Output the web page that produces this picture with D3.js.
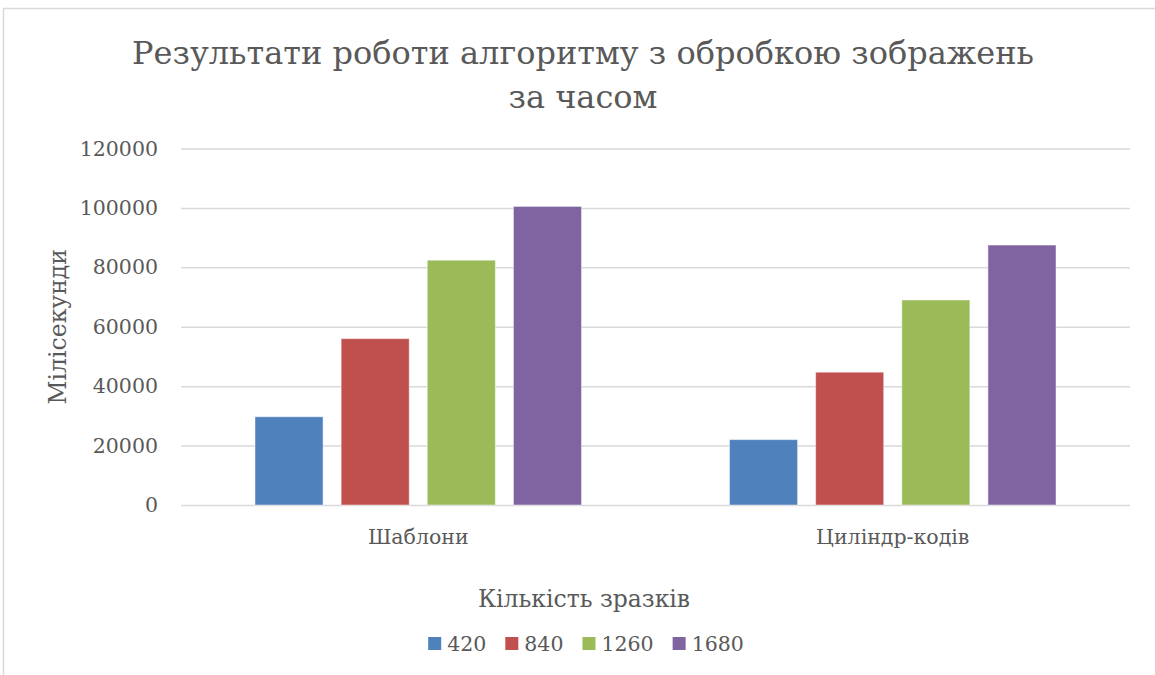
<!DOCTYPE html>
<html>
<head>
<meta charset="utf-8">
<script src="https://cdn.jsdelivr.net/npm/d3@7"></script>
<style>
  html, body { margin: 0; padding: 0; background: #fff; }
  svg { display: block; }
  text { font-family: "DejaVu Serif", "Liberation Serif", serif; fill: #595959; }
</style>
</head>
<body>
<svg id="chart" width="1155" height="675"></svg>
<script>
// Chart data
const categories = ["Шаблони", "Циліндр-кодів"];
const seriesNames = ["420", "840", "1260", "1680"];
const values420  = [29700, 22000];
const values840  = [56000, 44700];
const values1260 = [82400, 69000];
const values1680 = [100500, 87500];
const yTicks = [0, 20000, 40000, 60000, 80000, 100000, 120000];
const colors = ["#4f81bd", "#c0504d", "#9bbb59", "#8064a2"];

const titleLines = ["Результати роботи алгоритму з обробкою зображень", "за часом"];
const yTitle = "Мілісекунди";
const xTitle = "Кількість зразків";

const seriesValues = [values420, values840, values1260, values1680];
const rows = categories.map((c, i) => ({
  category: c,
  items: seriesNames.map((s, j) => ({ series: s, value: seriesValues[j][i], color: colors[j] }))
}));

const svg = d3.select("#chart");
const W = 1155, H = 675;
const plot = { left: 181, right: 1130, top: 148.5, bottom: 505 };

// Outer chart frame
svg.append("rect")
  .attr("x", 3.5).attr("y", 8.5)
  .attr("width", W + 20).attr("height", H + 20)
  .attr("fill", "#fff").attr("stroke", "#d9d9d9").attr("stroke-width", 1.5);

const y = d3.scaleLinear().domain([0, 120000]).range([plot.bottom, plot.top]);
const x0 = d3.scaleBand().domain(categories).range([plot.left, plot.right]).padding(0);
const outer = 74;
const x1 = d3.scaleBand().domain(seriesNames)
  .range([outer, x0.bandwidth() - outer]).paddingInner(0.21).paddingOuter(0);

// Gridlines and value labels
const yAxis = svg.append("g")
  .attr("transform", `translate(${plot.left},0)`)
  .call(d3.axisLeft(y).tickValues(yTicks).tickFormat(d3.format("d"))
    .tickSize(-(plot.right - plot.left)).tickPadding(23));
yAxis.select(".domain").remove();
yAxis.selectAll(".tick line").attr("stroke", "#d9d9d9").attr("stroke-width", 1.5);
yAxis.selectAll(".tick text")
  .attr("font-size", 20.5).attr("fill", "#595959")
  .style("font-family", "DejaVu Serif, serif");

// Bars
const groups = svg.append("g").selectAll("g")
  .data(rows).join("g")
  .attr("transform", d => `translate(${x0(d.category)},0)`);
groups.selectAll("rect")
  .data(d => d.items).join("rect")
  .attr("x", d => x1(d.series))
  .attr("width", x1.bandwidth())
  .attr("y", d => y(d.value))
  .attr("height", d => y(0) - y(d.value))
  .attr("fill", d => d.color)
  .attr("stroke", "rgba(255,255,255,0.45)")
  .attr("stroke-width", 1);

// Category labels
svg.append("g").selectAll("text")
  .data(categories).join("text")
  .attr("x", d => x0(d) + x0.bandwidth() / 2)
  .attr("y", 544)
  .attr("text-anchor", "middle")
  .attr("font-size", 20.5)
  .text(d => d);

// Title
svg.append("g").selectAll("text")
  .data(titleLines).join("text")
  .attr("x", 583)
  .attr("y", (d, i) => 64 + i * 44)
  .attr("text-anchor", "middle")
  .attr("font-size", 32)
  .text(d => d);

// Axis titles
svg.append("text")
  .attr("transform", `translate(66,${(plot.top + plot.bottom) / 2}) rotate(-90)`)
  .attr("text-anchor", "middle")
  .attr("font-size", 23.5)
  .text(yTitle);

svg.append("text")
  .attr("x", 584).attr("y", 607)
  .attr("text-anchor", "middle")
  .attr("font-size", 23.5)
  .text(xTitle);

// Legend
const legend = svg.append("g");
const items = legend.selectAll("g").data(seriesNames).join("g");
items.append("rect")
  .attr("width", 13).attr("height", 13)
  .attr("y", 637)
  .attr("fill", (d, i) => colors[i]);
items.append("text")
  .attr("x", 19).attr("y", 651)
  .attr("font-size", 20.5)
  .text(d => d);
let cursor = 0;
const offsets = [];
items.each(function () {
  offsets.push(cursor);
  const tw = d3.select(this).select("text").node().getComputedTextLength();
  cursor += 19 + tw + 19;
});
const total = cursor - 19;
const startX = 586 - total / 2;
items.attr("transform", (d, i) => `translate(${startX + offsets[i]},0)`);
</script>
</body>
</html>
